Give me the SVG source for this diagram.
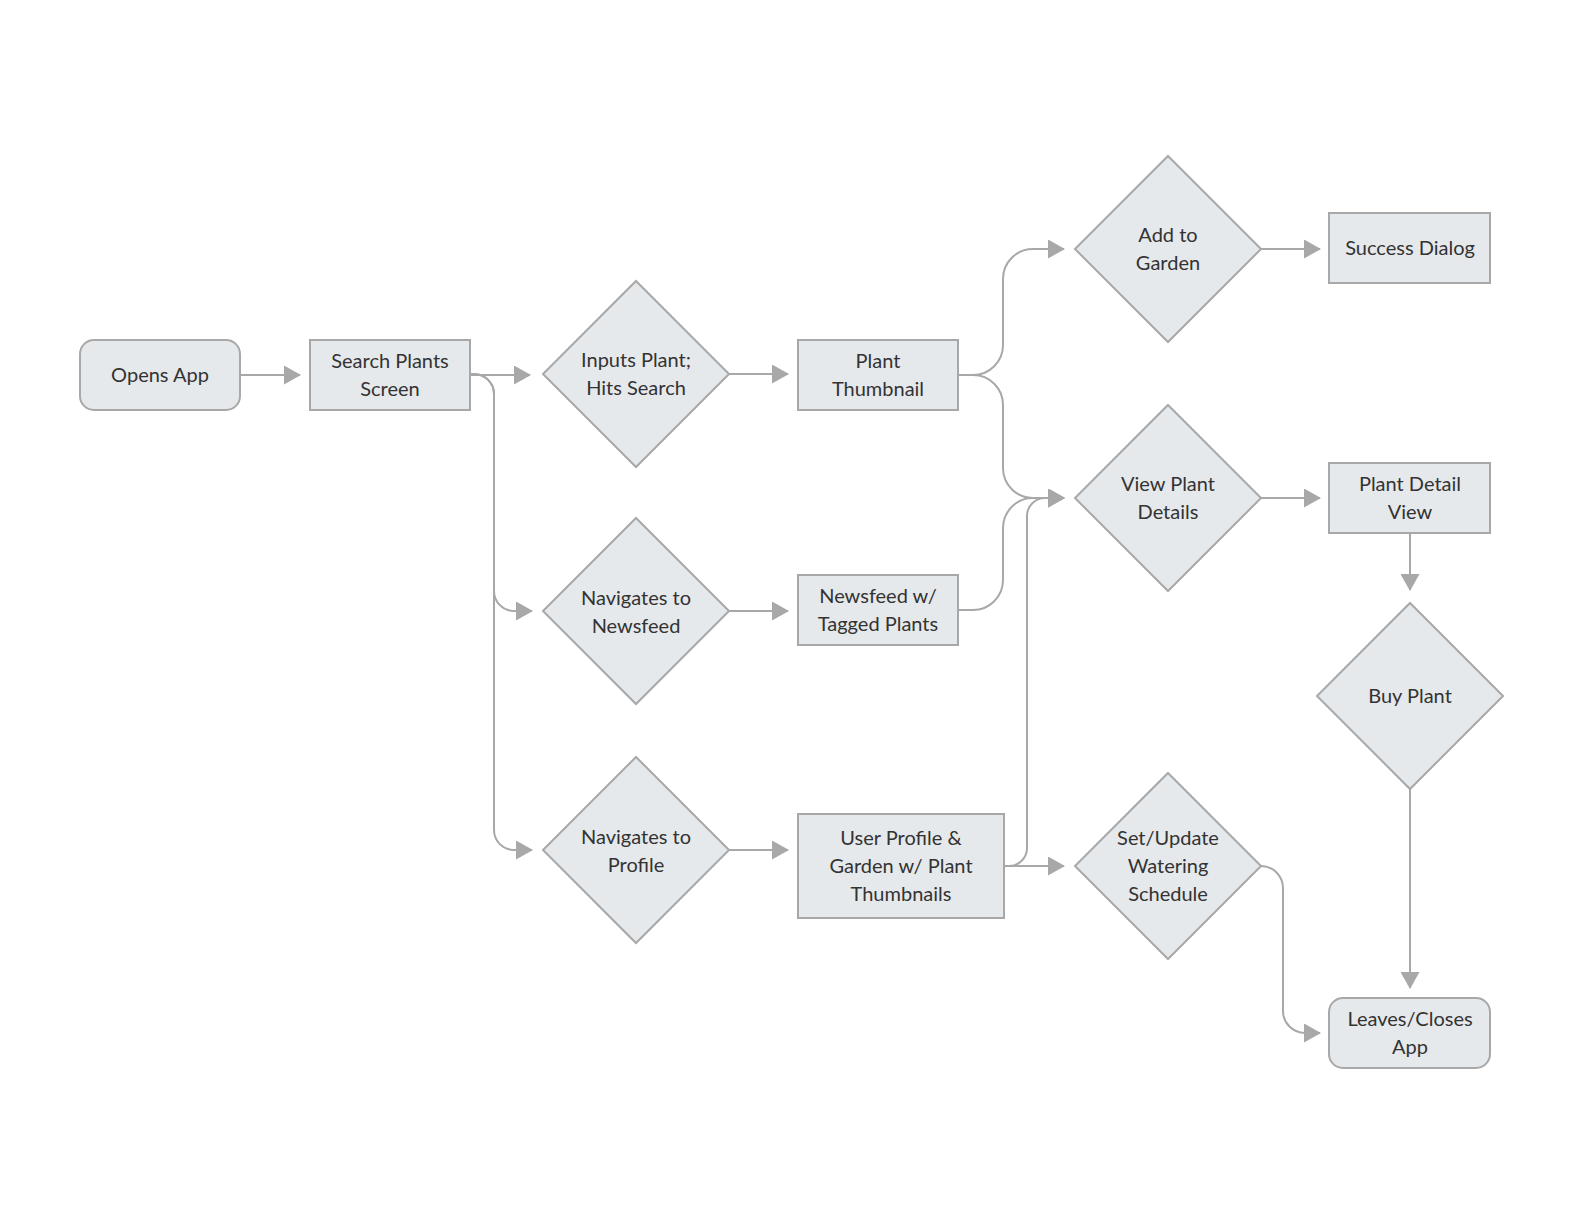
<svg xmlns="http://www.w3.org/2000/svg" width="1584" height="1224" viewBox="0 0 1584 1224">
<style>
.n{fill:#e6e9ec;stroke:#a8a8a8;stroke-width:2}
.t{font-family:Lato,"Open Sans","Liberation Sans",sans-serif;font-size:20px;fill:#333;text-anchor:middle}
.c{fill:none;stroke:#a8a8a8;stroke-width:2}
</style>
<defs>
<marker id="ah" markerUnits="userSpaceOnUse" viewBox="0 0 17 19" refX="16" refY="9.5" markerWidth="17" markerHeight="19" orient="auto">
<path d="M0,0 L17,9.5 L0,19 Z" fill="#a8a8a8"/>
</marker>
</defs>
<rect width="1584" height="1224" fill="#fff"/>
<g id="connectors">
<path class="c" marker-end="url(#ah)" d="M240,375 H300"/>
<path class="c" marker-end="url(#ah)" d="M470,375 H530"/>
<path class="c" marker-end="url(#ah)" d="M470,374 H474 A20,20 0 0 1 494,394 V591 A20,20 0 0 0 514,611 H532"/>
<path class="c" marker-end="url(#ah)" d="M470,374 H474 A20,20 0 0 1 494,394 V830 A20,20 0 0 0 514,850 H532"/>
<path class="c" marker-end="url(#ah)" d="M729,374 H788"/>
<path class="c" marker-end="url(#ah)" d="M729,611 H788"/>
<path class="c" marker-end="url(#ah)" d="M729,850 H788"/>
<path class="c" marker-end="url(#ah)" d="M958,375 H973 A30,30 0 0 0 1003,345 V279 A30,30 0 0 1 1033,249 H1064"/>
<path class="c" marker-end="url(#ah)" d="M958,375 H973 A30,30 0 0 1 1003,405 V468 A30,30 0 0 0 1033,498 H1064"/>
<path class="c" marker-end="url(#ah)" d="M958,610 H973 A30,30 0 0 0 1003,580 V528 A30,30 0 0 1 1033,498 H1064"/>
<path class="c" marker-end="url(#ah)" d="M1004,866 H1009 A18,18 0 0 0 1027,848 V516 A18,18 0 0 1 1045,498 H1064"/>
<path class="c" marker-end="url(#ah)" d="M1004,866 H1064"/>
<path class="c" marker-end="url(#ah)" d="M1261,249 H1320"/>
<path class="c" marker-end="url(#ah)" d="M1261,498 H1320"/>
<path class="c" marker-end="url(#ah)" d="M1410,533 V590"/>
<path class="c" marker-end="url(#ah)" d="M1410,789 V988"/>
<path class="c" marker-end="url(#ah)" d="M1261,866 A22,22 0 0 1 1283,888 V1011 A22,22 0 0 0 1305,1033 H1320"/>
</g>
<g id="opens-app"><rect class="n" x="80" y="340" width="160" height="70" rx="14"/><text class="t" x="160" y="382">Opens App</text></g>
<g id="search-plants"><rect class="n" x="310" y="340" width="160" height="70"/><text class="t" x="390" y="368">Search Plants</text><text class="t" x="390" y="396">Screen</text></g>
<g id="inputs-plant"><polygon class="n" points="636,281 729,374 636,467 543,374"/><text class="t" x="636" y="367">Inputs Plant;</text><text class="t" x="636" y="395">Hits Search</text></g>
<g id="plant-thumbnail"><rect class="n" x="798" y="340" width="160" height="70"/><text class="t" x="878" y="368">Plant</text><text class="t" x="878" y="396">Thumbnail</text></g>
<g id="add-to-garden"><polygon class="n" points="1168,156 1261,249 1168,342 1075,249"/><text class="t" x="1168" y="242">Add to</text><text class="t" x="1168" y="270">Garden</text></g>
<g id="success-dialog"><rect class="n" x="1329" y="213" width="161" height="70"/><text class="t" x="1410" y="255">Success Dialog</text></g>
<g id="view-plant-details"><polygon class="n" points="1168,405 1261,498 1168,591 1075,498"/><text class="t" x="1168" y="491">View Plant</text><text class="t" x="1168" y="519">Details</text></g>
<g id="plant-detail-view"><rect class="n" x="1329" y="463" width="161" height="70"/><text class="t" x="1410" y="491">Plant Detail</text><text class="t" x="1410" y="519">View</text></g>
<g id="navigates-newsfeed"><polygon class="n" points="636,518 729,611 636,704 543,611"/><text class="t" x="636" y="605">Navigates to</text><text class="t" x="636" y="633">Newsfeed</text></g>
<g id="newsfeed"><rect class="n" x="798" y="575" width="160" height="70"/><text class="t" x="878" y="603">Newsfeed w/</text><text class="t" x="878" y="631">Tagged Plants</text></g>
<g id="navigates-profile"><polygon class="n" points="636,757 729,850 636,943 543,850"/><text class="t" x="636" y="844">Navigates to</text><text class="t" x="636" y="872">Profile</text></g>
<g id="user-profile"><rect class="n" x="798" y="814" width="206" height="104"/><text class="t" x="901" y="845">User Profile &amp;</text><text class="t" x="901" y="873">Garden w/ Plant</text><text class="t" x="901" y="901">Thumbnails</text></g>
<g id="set-watering"><polygon class="n" points="1168,773 1261,866 1168,959 1075,866"/><text class="t" x="1168" y="845">Set/Update</text><text class="t" x="1168" y="873">Watering</text><text class="t" x="1168" y="901">Schedule</text></g>
<g id="buy-plant"><polygon class="n" points="1410,603 1503,696 1410,789 1317,696"/><text class="t" x="1410" y="703">Buy Plant</text></g>
<g id="leaves-app"><rect class="n" x="1329" y="998" width="161" height="70" rx="14"/><text class="t" x="1410" y="1026">Leaves/Closes</text><text class="t" x="1410" y="1054">App</text></g>
</svg>
